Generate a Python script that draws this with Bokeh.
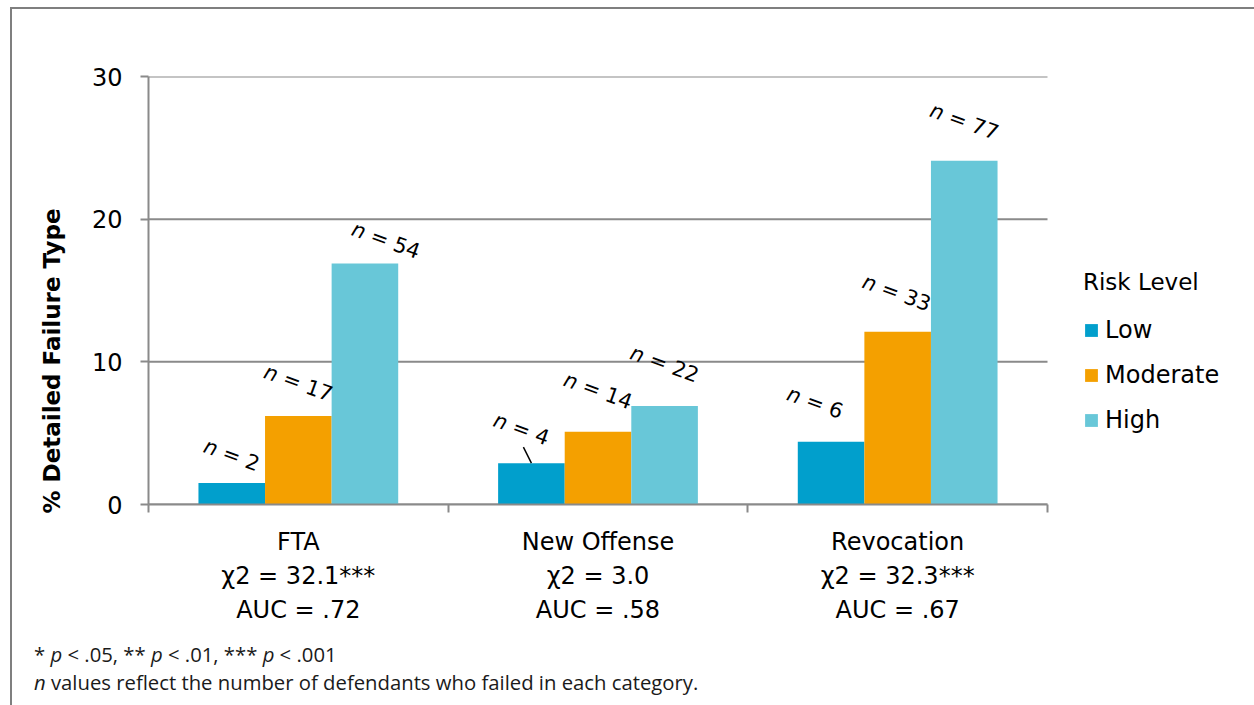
import math
from bokeh.plotting import figure
from bokeh.layouts import column
from bokeh.models import (Range1d, FixedTicker, Legend, LegendItem, Title, Div,
                          ColumnDataSource, CustomJSTickFormatter)
from bokeh.core.properties import value
from bokeh.embed import file_html
from bokeh.resources import INLINE

# ---------------- data ----------------
categories = ["FTA", "New Offense", "Revocation"]
chi2_labels = ["\u03c72 = 32.1***", "\u03c72 = 3.0", "\u03c72 = 32.3***"]
auc_labels = ["AUC = .72", "AUC = .58", "AUC = .67"]
risk_levels = ["Low", "Moderate", "High"]
low = [1.5, 2.9, 4.4]
moderate = [6.2, 5.1, 12.1]
high = [16.9, 6.9, 24.1]
n_low = [2, 4, 6]
n_moderate = [17, 14, 33]
n_high = [54, 22, 77]
y_ticks = [0, 10, 20, 30]
y_title = "% Detailed Failure Type"
footnote_html = ("* <i>p</i> &lt; .05, ** <i>p</i> &lt; .01, *** <i>p</i> &lt; .001<br>"
                 "<i>n</i> values reflect the number of defendants who failed in each category.")

# ---------------- style / layout ----------------
PAGE_W, PAGE_H = 1254, 705
OX, OY = 12, 9                     # page offset of the figure (inside border)
W = PAGE_W - OX
H1 = 626
H2 = PAGE_H - OY - H1
FL, FR, FT, FB = 148 - OX, 1047 - OX, 76 - OY, 504 - OY   # axis-area edges in fig px
NCAT = len(categories)
CAT_PX = (FR - FL) / NCAT
PX_PER_UNIT = (FB - FT) / y_ticks[-1]
X_END = NCAT + (W - FR) / CAT_PX     # frame extends to the right edge (legend area)
colors = ["#019fcc", "#f4a000", "#68c7d8"]
BAR_W = 0.2222
offsets = [-BAR_W, 0.0, BAR_W]
FONT = "DejaVu Sans"
TXT = "#000000"
GRID = "#8a8a8a"
nudges = [
    [(0, -28), (-10, -34), (-16, -39)],
    [(0, -33), (0, -41), (-1, -39)],
    [(21, -23), (0, -42), (0, -39)],
]
# leader line (series, category, dx px, dy px) from bar top towards its label
leaders = [(0, 1, -8, -16)]
ANG = -20.0
NFS = 21

p = figure(width=W, height=H1, output_backend="svg", toolbar_location=None,
           x_range=Range1d(0, X_END), y_range=Range1d(0, y_ticks[-1]),
           min_border_left=FL, min_border_right=0,
           min_border_top=FT, min_border_bottom=H1 - FB,
           outline_line_color=None, background_fill_color="white",
           border_fill_color="white")

# y axis
p.yaxis.ticker = FixedTicker(ticks=y_ticks)
p.yaxis.major_tick_out = 8
p.yaxis.major_tick_in = 0
p.yaxis.minor_tick_line_color = None
p.yaxis.axis_line_color = GRID
p.yaxis.axis_line_width = 2
p.yaxis.major_tick_line_color = GRID
p.yaxis.major_tick_line_width = 2
p.yaxis.major_label_text_font = FONT
p.yaxis.major_label_text_font_size = "24px"
p.yaxis.major_label_text_color = TXT
p.yaxis.major_label_standoff = 18

# y title (left panel)
p.add_layout(Title(text=y_title, align="left", offset=-9, standoff=47,
                   text_font=FONT, text_font_style="bold", text_font_size="23px",
                   text_color=TXT), "left")

# x axis: boundary ticks as minor ticks, category labels at centres
p.xaxis.ticker = FixedTicker(ticks=[i + 0.5 for i in range(NCAT)],
                             minor_ticks=list(range(NCAT + 1)))
p.xaxis.bounds = (0, NCAT)
p.xaxis.major_tick_out = 0
p.xaxis.major_tick_in = 0
p.xaxis.minor_tick_out = 8
p.xaxis.minor_tick_in = 0
p.xaxis.minor_tick_line_color = GRID
p.xaxis.minor_tick_line_width = 2
p.xaxis.axis_line_color = GRID
p.xaxis.axis_line_width = 2
p.xaxis.formatter = CustomJSTickFormatter(
    args=dict(cats=categories, chi=chi2_labels, auc=auc_labels),
    code="const i = Math.floor(tick); return cats[i] + '\\n' + chi[i] + '\\n' + auc[i];")
p.xaxis.major_label_text_font = FONT
p.xaxis.major_label_text_font_size = "24px"
p.xaxis.major_label_text_color = TXT
p.xaxis.major_label_text_line_height = 1.22
p.xaxis.major_label_standoff = 15

# horizontal grid lines limited to the category area
p.xgrid.visible = False
p.ygrid.visible = False
p.segment(x0=[0] * len(y_ticks), x1=[NCAT] * len(y_ticks), y0=y_ticks, y1=y_ticks,
          line_color=GRID, line_width=2)

# bars
series = [low, moderate, high]
ns = [n_low, n_moderate, n_high]
renderers = []
for s, (vals, col, off) in enumerate(zip(series, colors, offsets)):
    src = ColumnDataSource(dict(x=[i + 0.5 + off for i in range(NCAT)], top=vals))
    r = p.vbar(x="x", top="top", width=BAR_W, bottom=0, source=src,
               fill_color=col, line_color=None)
    renderers.append(r)

# leader lines
for s, i, ldx, ldy in leaders:
    bx = i + 0.5 + offsets[s]
    by = series[s][i]
    p.segment(x0=[bx], y0=[by], x1=[bx + ldx / CAT_PX], y1=[by - ldy / PX_PER_UNIT],
              line_color="#000000", line_width=1.5)

# n labels: italic "n" + regular "= k", rotated
a = math.radians(ANG)
dx_dir, dy_dir = math.cos(a), -math.sin(a)
w_n = 0.634 * NFS
gap = 0.318 * NFS
for s, (vals, off) in enumerate(zip(series, offsets)):
    xs, ys, xo, yo, xo_n, yo_n, txt = [], [], [], [], [], [], []
    for i, (v, n) in enumerate(zip(vals, ns[s])):
        rest = "= %d" % n
        w_rest = (0.838 + 0.318 + 0.636 * len(str(n))) * NFS
        total = w_n + gap + w_rest
        shift = (w_n + gap) - total / 2.0
        cx, cy = nudges[s][i]
        px, py = cx + shift * dx_dir, cy + shift * dy_dir
        xs.append(i + 0.5 + off)
        ys.append(v)
        xo.append(px)
        yo.append(py)
        xo_n.append(px - gap * dx_dir)
        yo_n.append(py - gap * dy_dir)
        txt.append(rest)
    src = ColumnDataSource(dict(x=xs, y=ys, xo=xo, yo=yo, xon=xo_n, yon=yo_n, t=txt,
                                n=["n"] * len(xs)))
    p.text(x="x", y="y", text="t", x_offset="xo", y_offset="yo", source=src,
           angle=ANG, angle_units="deg", text_align="left", text_baseline="middle",
           text_font=value(FONT), text_font_size="%dpx" % NFS, text_color=TXT)
    p.text(x="x", y="y", text="n", x_offset="xon", y_offset="yon", source=src,
           angle=ANG, angle_units="deg", text_align="right", text_baseline="middle",
           text_font=value(FONT), text_font_size="%dpx" % NFS, text_color=TXT,
           text_font_style="italic")

# legend inside the (extended) frame, right of the bars
items = [LegendItem(label=lv, renderers=[r]) for lv, r in zip(risk_levels, renderers)]
legend = Legend(items=items, location=(1083 - 148, 504 - 434), orientation="vertical",
                title="Risk Level", title_text_font=FONT, title_text_font_size="23px",
                title_text_font_style="normal", title_text_color=TXT, title_standoff=21,
                glyph_width=16, glyph_height=16, label_standoff=6, spacing=17,
                label_height=28, padding=0, margin=0, border_line_color=None,
                background_fill_alpha=0, label_text_font=FONT,
                label_text_font_size="24px", label_text_color=TXT)
p.add_layout(legend)

# footnotes
notes = Div(text=footnote_html, width=W, height=H2,
            styles={"font-family": "'Open Sans'", "font-size": "20.3px",
                    "line-height": "28px", "color": "#1a1a1a",
                    "padding-left": "17px", "padding-top": "0px",
                    "box-sizing": "border-box", "white-space": "nowrap"})

layout = column(p, notes, spacing=0,
                styles={"margin-left": "10px", "margin-top": "7px",
                        "border-left": "2px solid #7f7f7f",
                        "border-top": "2px solid #7f7f7f"})

open("out.html", "w").write(file_html(layout, INLINE))
